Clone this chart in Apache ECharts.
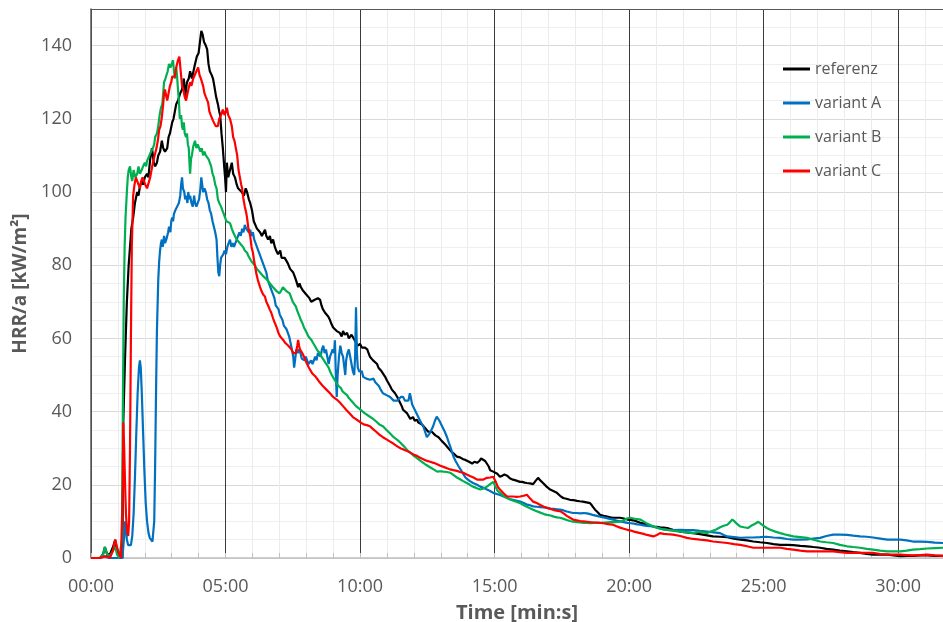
<!DOCTYPE html>
<html><head><meta charset="utf-8">
<script src="https://cdn.jsdelivr.net/npm/echarts@6/dist/echarts.min.js"></script>
<style>html,body{margin:0;padding:0;background:#fff}#c{width:943px;height:622px}</style>
</head><body><div id="c"></div>
<script>
const seriesNames = ['referenz','variant A','variant B','variant C'];
const seriesColors = ['#000000','#0070C0','#00B050','#FF0000'];
const xTickLabels = ['00:00','05:00','10:00','15:00','20:00','25:00','30:00'];
const yTickLabels = [0,20,40,60,80,100,120,140];

const referenz = [[0,0],[20,0],[27,1],[31,3],[36,1],[42,1],[49,3],[54,5],[58,2],[64,0],[70,0],[72,37],[76,55],[80,70],[84,80],[87,85],[90,90],[94,93],[98,97],[103,100],[106,99],[109,101.5],[113,103],[116,102],[120,104],[125,105],[128,104],[132,109],[136,112],[140,108],[143,107],[147,108],[150,110],[154,111],[158,114],[161,112],[165,111],[170,112],[173,115],[176,116],[181,119],[184,120],[187,122],[190,124],[194,125],[199,127],[203,128],[207,131],[210,126],[214,130],[218,131],[221,133],[225,131],[228,131],[232,135],[236,137],[240,138],[243,141],[246,144],[249,143],[252,141],[256,140],[259,139],[262,135],[265,133],[269,132],[272,131],[275,129],[279,126],[283,124],[286,122],[288,121],[291,116],[294,112],[297,107],[299,104],[301,100],[303,108],[306,104],[310,106],[314,108],[317,105],[321,104],[325,102],[328,101],[332,101.5],[336,100],[341,99],[345,101],[348,100],[352,98],[355,97],[359,95],[363,92],[366,91.5],[370,90],[374,90.5],[377,89],[381,88],[384,88],[388,89.7],[391,88],[395,87],[399,88],[402,86],[406,87],[410,85],[413,84],[417,83],[422,84],[425,82],[428,81.5],[432,82],[435,82],[439,80.5],[444,79],[447,78.5],[451,78],[454,77],[457,76],[462,74],[465,75],[468,74],[473,73],[476,72.5],[480,72],[484,72],[487,71],[491,70],[495,69.5],[498,70.5],[502,70],[506,71],[511,70.5],[514,69],[517,68],[522,67],[525,66.5],[529,66],[533,65],[536,64],[540,63],[544,62.5],[548,62],[551,62],[555,61.5],[559,60.5],[562,62],[566,61],[571,61.5],[575,60],[578,60],[581,61],[584,60.5],[588,59.5],[591,59],[595,58],[600,58.5],[604,57.5],[607,58],[611,57.5],[616,57],[619,56],[622,55],[626,54.5],[629,54],[633,53.5],[638,53],[641,52],[645,51.5],[648,51],[651,50.5],[656,49.5],[660,48.5],[664,48],[667,47],[671,46],[674,45.5],[678,45],[683,44],[686,43.5],[689,42.5],[693,41.5],[696,40.5],[700,40],[705,39.5],[708,39],[712,38],[715,38.5],[718,38.5],[722,37.5],[727,37.8],[730,37],[734,36.8],[738,36.5],[741,36],[745,35.5],[749,35],[752,34.5],[756,34],[760,34.5],[763,34.5],[768,33.5],[772,33.7],[775,33],[778,32.5],[782,32],[785,31.5],[790,31],[794,30.5],[797,30],[801,29.6],[804,29],[807,28.5],[811,28.3],[816,27.7],[819,27.8],[823,27.5],[826,27],[830,27],[835,26.8],[839,26.5],[843,26.3],[845,26],[850,25.8],[855,26.3],[861,26],[866,26.5],[870,27.2],[874,27],[879,26.5],[883,26],[887,25],[890,24],[893,24.2],[897,23.6],[901,23.4],[906,23],[909,22.6],[912,22.2],[917,22.5],[922,22.8],[928,22.5],[934,21.8],[941,21.4],[947,21.2],[952,21],[957,20.8],[962,20.8],[967,20.6],[972,20.5],[979,20.4],[986,20.2],[991,21],[997,21.9],[1002,21.2],[1008,20.5],[1016,19.5],[1024,18.7],[1031,18.3],[1039,17.8],[1046,17],[1053,16.4],[1060,16.2],[1068,15.9],[1076,15.8],[1084,15.6],[1090,15.5],[1097,15.4],[1105,15.2],[1113,15],[1118,14.2],[1124,13.2],[1130,12.5],[1135,11.8],[1143,11.5],[1151,11.3],[1158,11.1],[1164,11],[1172,11],[1180,11],[1188,10.8],[1196,10.5],[1203,10.4],[1209,10.3],[1217,10],[1225,9.6],[1233,9.4],[1240,9.1],[1247,8.9],[1254,8.6],[1262,8.5],[1269,8.4],[1277,8.3],[1285,8.2],[1292,7.9],[1298,7.7],[1306,7.5],[1314,7.2],[1328,7],[1343,6.8],[1358,6.5],[1374,6.2],[1387,5.9],[1403,5.8],[1419,5.7],[1434,5.3],[1448,5],[1463,4.8],[1477,4.5],[1492,4.3],[1508,4.1],[1522,3.8],[1537,3.6],[1552,3.6],[1566,3.5],[1582,3.3],[1597,3.2],[1611,3],[1626,2.8],[1640,2.5],[1655,2.3],[1670,2],[1686,1.8],[1700,1.6],[1715,1.4],[1730,1.1],[1744,0.9],[1760,0.9],[1776,0.9],[1790,0.7],[1805,0.5],[1819,0.6],[1833,0.6],[1849,0.7],[1865,0.7],[1882,0.6],[1900,0.6]];

const variantA = [[0,0],[20,0],[30,0.5],[40,0],[70,0],[72,0],[74,6],[76,10],[78,8],[80,5],[83,3.5],[86,3],[89,3.5],[92,6],[95,12],[98,22],[101,34],[104,45],[107,52],[109,54],[111,52],[113,46],[116,35],[119,24],[122,15],[125,10],[128,7],[131,5.5],[134,5],[137,4.5],[139,5],[141,10],[143,25],[145,45],[147,62],[150,76],[152,81],[154,84],[156,86],[158,87],[160,85],[163,88],[165,86],[168,87],[170,88],[172,89],[174,90.5],[177,89],[179,92],[181,93],[183,92],[185,94],[188,95],[192,96],[196,97],[199,99],[201,102],[203,104],[205,101],[208,100],[210,98],[212,99],[215,97],[217,100],[219,98],[221,99],[224,97],[227,96],[230,99],[232,97],[235,96],[238,97],[241,98],[244,101],[246,104],[248,102],[250,100],[253,101],[256,100],[259,98],[262,97],[265,95],[268,94],[271,92],[274,90.5],[277,89],[280,87],[282,82],[284,78],[286,77],[288,80],[290,82],[292,81.5],[295,83],[298,84],[301,83],[304,85],[307,86],[310,87],[313,85],[316,86],[319,85],[322,86],[325,87],[328,88],[331,89],[334,88],[337,90],[340,89],[343,91],[346,90],[349,90.5],[352,89],[355,89.7],[358,88],[361,89],[364,87],[367,86],[370,85],[373,84],[376,83],[379,82],[382,81.5],[385,80],[388,79],[391,78],[394,76],[397,75],[400,74],[403,73],[406,72],[409,71],[412,69],[415,68.7],[418,68],[421,66.5],[424,66],[427,65],[430,63.5],[433,64],[436,62.5],[439,62],[442,60.5],[445,60],[448,57],[451,55],[453,52],[455,54],[458,57],[461,56],[464,57],[467,56],[470,54.5],[473,55],[476,54],[479,55],[482,54],[485,53],[488,52.5],[491,54],[494,53],[497,54],[500,55],[503,54],[506,56],[509,55.5],[512,55],[515,57],[518,58],[521,56],[524,57],[527,55],[530,53],[533,55],[536,56],[539,57],[542,56],[544,59.5],[546,50],[548,44],[550,50],[553,55],[556,58],[559,56],[562,55],[565,52],[567,50],[569,54],[572,56],[575,57],[578,55],[581,53],[584,51],[587,50],[589,55],[591,68.5],[593,56],[595,52],[598,51],[600,50.5],[604,51],[607,49.5],[611,50],[614,49],[618,49.5],[622,48.7],[626,48.5],[630,49],[634,48],[638,48],[642,47],[646,46],[651,45],[655,45.5],[659,44.5],[663,44],[667,44],[671,43.5],[675,43],[679,43.5],[683,43],[687,43.5],[691,44],[696,44],[700,43],[704,43.5],[708,43],[711,45],[713,44],[716,42],[720,41],[724,40.5],[728,39],[732,38],[736,37],[741,36],[745,34.5],[749,33],[752,33],[755,34],[759,35],[763,36],[767,37.5],[771,38.6],[774,38.6],[777,37.5],[781,36.5],[785,36],[789,34.5],[794,33],[798,31.5],[801,30.5],[805,29],[809,27.5],[813,26.5],[816,26],[820,25],[825,24],[830,23],[835,22],[840,21.5],[845,21],[852,20.5],[861,20],[868,19.5],[875,19.2],[883,18.7],[890,18.3],[897,17.8],[905,17.5],[912,17.2],[920,16.8],[928,16.4],[936,16],[943,15.8],[950,15.6],[957,15.4],[965,15],[972,14.6],[979,14.4],[986,14.1],[994,14],[1002,13.9],[1010,13.8],[1017,13.7],[1025,13.5],[1032,13.4],[1039,13.3],[1046,13.2],[1054,13],[1061,12.7],[1068,12.5],[1075,12.3],[1083,12.3],[1091,12.2],[1099,12.3],[1106,12.2],[1113,12],[1121,11.7],[1128,11.5],[1135,11.3],[1143,11.1],[1150,10.9],[1157,10.7],[1164,10.5],[1172,10.2],[1180,10],[1188,9.8],[1196,9.6],[1204,9.5],[1211,9.4],[1218,9.2],[1225,9.1],[1232,8.9],[1240,8.8],[1247,8.7],[1254,8.6],[1262,8.3],[1270,8],[1277,7.8],[1285,7.7],[1300,7.6],[1314,7.7],[1328,7.6],[1343,7.6],[1358,7.4],[1374,7.2],[1389,7],[1403,6.8],[1411,6.3],[1419,5.9],[1434,5.7],[1448,5.5],[1463,5.6],[1477,5.6],[1492,5.7],[1506,5.8],[1522,5.6],[1537,5.5],[1552,5.2],[1566,5],[1582,5],[1597,5.1],[1611,5.3],[1626,5.5],[1640,6],[1655,6.4],[1670,6.4],[1686,6.3],[1700,6.1],[1715,5.9],[1730,5.8],[1744,5.6],[1760,5.3],[1776,5],[1790,5],[1805,5],[1819,4.8],[1833,4.5],[1849,4.5],[1865,4.4],[1882,4.2],[1900,4.1]];

const variantB = [[0,0],[20,0],[27,1],[31,3],[36,1],[42,0.5],[49,2],[54,3],[58,1],[63,0],[67,0],[69,5],[71,40],[73,70],[75,85],[77,93],[80,100],[82,104],[84,106],[87,107],[90,104],[92,103],[95,106],[99,104],[103,105],[106,107],[109,105],[113,106],[116,107],[120,108],[123,107],[125,108.5],[129,109],[132,110.5],[135,111],[138,112],[141,113],[143,115],[147,116],[150,118],[153,121],[156,123],[159,124],[161,127],[163,130],[166,131],[168,131],[171,133],[174,135],[177,134],[180,135],[183,136],[185,133],[187,131],[190,134],[192,131.5],[194,128],[196,125],[198,120],[199,119.5],[201,121],[203,118],[205,117],[207,119],[209,116],[212,115],[214,116],[216,113],[218,112],[220,107],[221,105],[223,109],[225,110],[228,112.5],[230,113],[232,114],[235,112],[238,113],[241,113],[244,111],[247,112],[250,110],[253,111],[256,110],[259,109.5],[262,109],[265,108],[268,107],[271,105],[274,104],[277,102],[280,101],[283,98],[286,97],[290,96],[293,95],[296,94],[299,93],[302,92],[306,92],[310,91.5],[314,90],[317,89],[321,88],[325,87],[329,87],[332,86],[336,85.5],[339,85],[343,84],[348,83.4],[351,82.5],[354,82],[358,81],[361,80.5],[365,80],[370,79],[373,78.5],[377,78],[381,77.5],[384,77],[388,76.5],[393,76],[396,75.5],[399,75],[403,74.5],[406,74],[410,73.5],[413,73],[417,72.5],[420,72.3],[424,73],[428,74],[431,73.5],[435,73],[439,72.5],[443,72.3],[447,71],[450,70],[454,69.5],[457,68.7],[460,67.5],[462,67],[465,66],[468,65],[472,64],[475,63],[479,62],[482,61.5],[485,60.5],[488,60],[492,59.5],[495,58.8],[499,58],[502,57.5],[506,56.5],[511,56],[514,55],[518,54.5],[522,53.5],[526,53],[530,52],[533,51],[537,50],[540,49.5],[544,48.5],[548,48],[552,47],[557,46.5],[561,45.5],[566,45],[571,44.5],[575,43.7],[578,43.5],[584,42.5],[591,41.5],[596,41],[600,40.5],[606,40],[611,39.5],[617,39],[622,38.6],[629,38],[636,37.3],[643,36.5],[651,36],[659,35],[667,34],[675,33],[683,32.3],[690,31.5],[698,30.5],[705,29.5],[712,28.8],[719,28],[727,27.3],[734,26.6],[741,26],[748,25.4],[756,24.8],[764,24.2],[772,23.6],[779,23.7],[786,23.6],[794,23.5],[801,23.3],[808,22.7],[816,22],[823,21.5],[830,21],[838,20.5],[845,20],[850,19.6],[856,19.3],[862,19],[868,18.7],[875,19],[883,19.5],[890,20.2],[897,20.8],[902,19.5],[907,18.3],[912,17.8],[920,17],[928,16.4],[935,16],[943,15.6],[950,15.3],[957,15],[964,14.5],[972,14],[979,13.6],[986,13.2],[994,12.8],[1002,12.4],[1010,12],[1017,11.8],[1025,11.6],[1032,11.3],[1039,11.1],[1046,11],[1054,10.7],[1061,10.4],[1068,10.1],[1075,9.9],[1083,9.8],[1091,9.7],[1099,9.6],[1106,9.6],[1113,9.5],[1121,9.6],[1128,9.6],[1135,9.6],[1146,9.7],[1158,9.8],[1169,9.8],[1180,9.9],[1188,10.3],[1195,10.8],[1202,11],[1210,10.8],[1218,10.6],[1225,10.5],[1232,10],[1240,9.4],[1247,9],[1254,8.6],[1262,8.3],[1270,8],[1277,7.8],[1285,7.7],[1300,7.4],[1314,7.2],[1328,7],[1343,6.8],[1358,7.2],[1374,6.8],[1385,7.4],[1394,7.8],[1403,8.4],[1411,8.8],[1419,9.1],[1425,9.8],[1430,10.5],[1435,10],[1440,9.4],[1448,8.6],[1456,8.4],[1465,8.2],[1472,8.8],[1480,9.3],[1488,9.9],[1494,9.3],[1500,8.8],[1507,8.2],[1515,7.7],[1526,7.2],[1537,6.8],[1552,6.3],[1566,5.9],[1582,5.7],[1597,5.5],[1611,5],[1626,4.5],[1640,4.3],[1655,4.1],[1670,3.6],[1686,3.2],[1700,3],[1715,2.8],[1730,2.5],[1744,2.3],[1760,2],[1776,1.8],[1790,1.8],[1805,1.8],[1819,2],[1833,2.3],[1849,2.4],[1865,2.6],[1882,2.7],[1900,2.8]];

const variantC = [[0,0],[20,0],[27,0.3],[36,0.5],[42,0],[49,2],[52,4],[54,5],[56,4],[58,3],[63,1],[67,0],[70,0],[71,20],[72,37],[74,30],[76,20],[78,12],[80,8],[83,6],[85,10],[87,30],[89,60],[91,85],[94,99],[97,102],[100,104],[103,104],[106,102],[109,101],[112,103],[115,104],[118,104],[121,102],[125,101],[129,101],[132,104],[135,106],[138,108],[142,110],[146,112],[149,114],[152,117],[155,118],[158,120.5],[161,124],[163,127],[165,128],[168,126],[170,125],[173,127],[176,129],[179,130],[181,131.5],[184,132],[187,131.5],[190,134],[194,136],[197,137],[199,137],[200,133],[203,129],[206,128],[209,126],[212,125],[214,125],[217,128],[221,130],[224,129],[228,131],[232,131.5],[235,133],[239,134],[242,132],[245,131],[250,129],[253,127],[256,126],[261,124.5],[264,122],[267,121],[272,119.5],[275,119],[278,118],[283,118],[286,120],[290,121],[294,122.5],[298,121],[303,123],[306,121],[310,120],[314,118],[317,115],[320,114],[323,112],[326,110],[329,106],[332,104],[335,102],[337,101],[340,98],[343,96],[346,94.4],[348,93],[351,90],[355,88],[358,85],[361,83.5],[364,81],[366,79.6],[369,77.5],[372,76],[377,74],[380,73],[384,72],[388,71.4],[391,70],[395,69],[399,67.8],[402,67],[406,65.5],[410,64.2],[414,63],[418,61.5],[422,60.5],[426,60],[429,59.5],[433,58.8],[437,58.5],[440,58],[444,57.7],[447,57],[451,56],[454,55.5],[457,56],[460,58],[462,59.6],[464,58],[466,57],[469,56.5],[471,56],[475,55],[478,54],[482,53],[486,52],[489,51.5],[493,50.5],[497,50],[501,49.5],[506,48.7],[510,48],[514,47.5],[517,47],[521,46.5],[525,46],[529,45.5],[533,45],[536,44.5],[540,44],[544,43.7],[548,43.3],[551,43],[555,42.5],[558,42],[562,41.5],[566,41],[569,40.5],[573,40],[577,39.5],[580,39],[584,38.5],[590,38],[596,37.5],[602,37],[608,36.5],[615,36.3],[622,36],[629,35.2],[636,34.5],[643,33.7],[651,33],[659,32.4],[667,31.8],[675,31.2],[683,30.5],[690,30],[698,29.6],[705,29.2],[712,28.8],[719,28.3],[727,27.9],[734,27.4],[741,27],[748,26.6],[756,26.3],[764,26],[772,25.6],[779,25.2],[786,24.9],[794,24.5],[801,24.2],[808,24],[816,23.8],[823,23.5],[830,23.3],[838,22.8],[845,22.4],[853,22],[861,21.4],[868,21.4],[874,21.4],[878,21.6],[883,21.9],[890,22],[897,22.2],[902,21],[907,19.5],[912,18.7],[920,17.7],[928,16.8],[935,16.8],[941,16.8],[949,16.7],[957,16.8],[965,17],[972,17.3],[979,16.3],[986,15.4],[994,15],[1002,14.5],[1010,14],[1017,13.7],[1025,13.4],[1032,13.1],[1039,12.9],[1046,12.8],[1054,12.2],[1061,11.5],[1068,11],[1075,10.5],[1083,10.3],[1091,10.1],[1099,10],[1106,9.9],[1113,9.8],[1121,9.7],[1128,9.7],[1135,9.6],[1143,9.5],[1150,9.3],[1157,9.2],[1164,9.1],[1172,8.7],[1180,8.3],[1188,8],[1196,7.7],[1204,7.5],[1211,7.2],[1218,7],[1225,6.8],[1232,6.6],[1240,6.3],[1247,6.1],[1254,5.9],[1262,6.3],[1269,6.8],[1277,6.6],[1285,6.5],[1298,6.4],[1314,6],[1329,5.5],[1343,5.2],[1358,5],[1374,4.8],[1387,4.5],[1403,4.3],[1419,4.1],[1434,3.8],[1448,3.6],[1463,3.2],[1477,2.8],[1492,2.8],[1508,2.8],[1522,2.8],[1537,2.8],[1552,2.5],[1566,2.3],[1582,2],[1597,1.8],[1611,1.8],[1626,1.8],[1640,1.8],[1655,1.8],[1670,1.6],[1686,1.4],[1700,1.4],[1715,1.4],[1730,1.4],[1744,1.4],[1760,1.1],[1776,0.9],[1790,0.9],[1805,0.9],[1819,0.8],[1833,0.7],[1849,0.8],[1865,0.9],[1882,0.7],[1900,0.6]];

const seriesData = [referenz, variantA, variantB, variantC];
const FONT = '"Open Sans", sans-serif';
const TXT = '#595959';

const chart = echarts.init(document.getElementById('c'), null, {renderer:'canvas'});
chart.setOption({
  animation: false,
  backgroundColor: '#ffffff',
  textStyle: {fontFamily: FONT},
  grid: {left: 91, right: 0, top: 9, bottom: 64, containLabel: false, outerBoundsMode: 'none'},
  legend: {
    data: seriesNames, orient: 'vertical', left: 783, top: 59, padding: 0,
    icon: 'rect', itemWidth: 27, itemHeight: 3, itemGap: 14,
    textStyle: {color: TXT, fontSize: 16, fontFamily: FONT, lineHeight: 20}
  },
  xAxis: [{
    type: 'value', min: 0, max: 1900, interval: 60,
    name: 'Time [min:s]', nameLocation: 'middle', nameGap: 45,
    nameTextStyle: {color: TXT, fontSize: 20, fontWeight: 'bold', fontFamily: FONT},
    axisLine: {show: true, lineStyle: {color: '#bfbfbf', width: 1.5}},
    axisTick: {show: true, inside: true, length: 5, lineStyle: {color: '#bfbfbf'}},
    axisLabel: {
      color: TXT, fontSize: 18, margin: 20, showMaxLabel: false,
      formatter: v => (v % 300 === 0 ? xTickLabels[v / 300] || '' : '')
    },
    splitLine: {show: true, lineStyle: {width: 1, color: ['#3a3a3a','#ececec','#ececec','#ececec','#ececec']}}
  }, {
    type: 'value', position: 'top', min: 0, max: 1900,
    axisLine: {show: true, lineStyle: {color: '#595959', width: 1}},
    axisTick: {show: false}, axisLabel: {show: false}, splitLine: {show: false}
  }],
  yAxis: {
    type: 'value', min: 0, max: 150, interval: 5,
    name: 'HRR/a [kW/m²]', nameLocation: 'middle', nameGap: 59, nameRotate: 90,
    nameTextStyle: {color: TXT, fontSize: 19, fontWeight: 'bold', fontFamily: FONT},
    axisLine: {show: true, lineStyle: {color: '#595959', width: 1.5}},
    axisTick: {show: false},
    axisLabel: {
      color: TXT, fontSize: 18, margin: 19, showMaxLabel: false,
      formatter: v => (v % 20 === 0 && yTickLabels.indexOf(v) >= 0 ? String(v) : '')
    },
    splitLine: {show: true, lineStyle: {width: 1, color: ['#d9d9d9','#efefef','#efefef','#efefef']}}
  },
  series: seriesNames.map((n, i) => ({
    name: n, type: 'line', data: seriesData[i], xAxisIndex: 0,
    showSymbol: false, symbol: 'none', smooth: false,
    lineStyle: {color: seriesColors[i], width: 2.2},
    itemStyle: {color: seriesColors[i]}, z: 2 + i
  }))
});
</script>
</body></html>
